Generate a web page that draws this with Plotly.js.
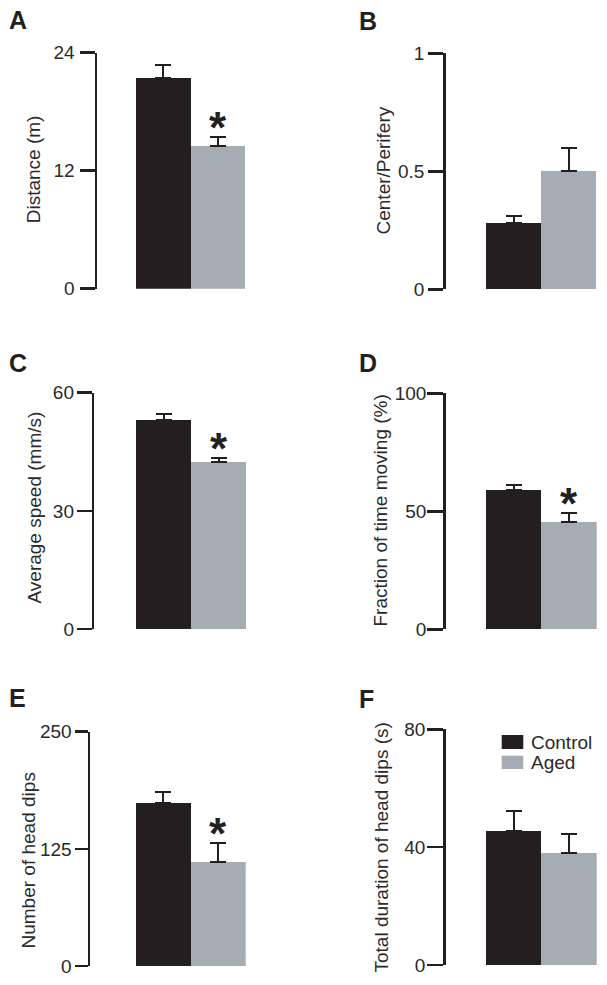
<!DOCTYPE html>
<html>
<head>
<meta charset="utf-8">
<script src="https://cdn.plot.ly/plotly-3.0.1.min.js"></script>
<style>html,body{margin:0;padding:0;background:#fff;}#chart{width:607px;height:985px;}</style>
</head>
<body>
<div id="chart"></div>
<script>
// ---------- data ----------
const panelLetters = ['A', 'B', 'C', 'D', 'E', 'F'];
const yTitles = ['Distance (m)', 'Center/Perifery', 'Average speed (mm/s)',
                 'Fraction of time moving (%)', 'Number of head dips', 'Total duration of head dips (s)'];
const groups = ['Control', 'Aged'];
const controlMean = [21.4, 0.28, 53.1, 59.0, 174, 45.6];
const controlSem  = [1.3, 0.03, 1.5, 2.0, 12, 6.7];
const agedMean    = [14.5, 0.50, 42.5, 45.5, 111, 38.1];
const agedSem     = [0.9, 0.10, 1.0, 3.9, 20, 6.5];
const yMax        = [24, 1, 60, 100, 250, 80];
const tickLabels  = [['0','12','24'], ['0','0.5','1'], ['0','30','60'], ['0','50','100'], ['0','125','250'], ['0','40','80']];
const significant = [true, false, true, true, true, false];

// ---------- layout geometry (pixels) ----------
const W = 607, H = 985;
// [axisX, barLeft, barRight, top, bottom]
const boxes = [
  [97, 136, 245, 52.7, 288.7],
  [445.7, 486, 596.3, 53.3, 289.3],
  [94.3, 136.3, 246, 392.7, 629],
  [445.7, 486, 596.7, 393.3, 629.3],
  [90, 136, 245.7, 731.7, 966],
  [445.7, 486, 596.7, 729.3, 965]
];
const tickLens = [15, 15, 15, 16, 13, 16];
const labelStandoffs = [1, 0, -1, -3, -1, -2];
const titlePos = [[33.3, 169], [382.5, 171], [34, 507.5], [380, 510.5], [27.5, 861], [380.5, 848]];
const letterPos = [[7, 20.5], [357, 21], [7, 363], [357, 363], [7, 697.5], [357, 699]];

const BLACK = '#231f20', GRAY = '#a6acb4', TXT = '#2a2a2a';
const FONT = 'Liberation Sans, Arial, Helvetica, sans-serif';

const traces = [];
const layout = {
  width: W, height: H,
  margin: {l: 0, r: 0, t: 0, b: 0, pad: 0},
  paper_bgcolor: '#fff', plot_bgcolor: 'rgba(0,0,0,0)',
  showlegend: false,
  bargap: 0,
  barmode: 'overlay',
  font: {family: FONT, color: TXT, size: 19},
  annotations: [],
  shapes: []
};

for (let i = 0; i < 6; i++) {
  const n = i + 1;
  const sfx = (n === 1 ? '' : String(n));
  const xa = 'x' + sfx, ya = 'y' + sfx;
  const [ax, bl, br, top, bot] = boxes[i];
  const scale = (br - bl) / 2;
  const left = -0.5 - (bl - ax) / scale;
  const means = [controlMean[i], agedMean[i]];
  const sems = [controlSem[i], agedSem[i]];
  const colors = [BLACK, GRAY];
  for (let g = 0; g < 2; g++) {
    traces.push({
      type: 'bar', name: groups[g], x: [g], y: [means[g]], width: [1],
      xaxis: xa, yaxis: ya,
      marker: {color: colors[g], line: {width: 0}},
      error_y: {type: 'data', symmetric: false, array: [sems[g]], arrayminus: [0],
                color: BLACK, thickness: 2, width: 8},
      hoverinfo: 'skip', showlegend: false
    });
  }
  layout['xaxis' + sfx] = {
    domain: [ax / W, br / W], range: [left, 1.5], anchor: ya,
    visible: false, fixedrange: true
  };
  layout['yaxis' + sfx] = {
    domain: [1 - bot / H, 1 - top / H], range: [0, yMax[i]], anchor: xa,
    tickvals: [0, yMax[i] / 2, yMax[i]], ticktext: tickLabels[i],
    showline: true, linewidth: 2.5, linecolor: BLACK,
    ticks: 'outside', ticklen: tickLens[i], tickwidth: 2.5, tickcolor: BLACK,
    showgrid: false, zeroline: false, fixedrange: true,
    tickfont: {size: 19, color: TXT, family: FONT},
    ticklabelstandoff: labelStandoffs[i],
    automargin: false
  };
  // y-axis title
  layout.annotations.push({
    xref: 'paper', yref: 'paper', x: titlePos[i][0] / W, y: 1 - titlePos[i][1] / H,
    xanchor: 'center', yanchor: 'middle', textangle: -90, showarrow: false,
    text: yTitles[i], font: {size: 19, color: TXT, family: FONT}
  });
  if (significant[i]) {
    layout.annotations.push({
      xref: xa, yref: ya, x: 1, y: agedMean[i] + agedSem[i],
      text: '<b>*</b>', showarrow: false, xanchor: 'center', yanchor: 'bottom',
      yshift: -17, font: {size: 44, color: BLACK, family: FONT}
    });
  }
  layout.annotations.push({
    xref: 'paper', yref: 'paper', x: letterPos[i][0] / W, y: 1 - letterPos[i][1] / H,
    xanchor: 'left', yanchor: 'middle', showarrow: false,
    text: '<b>' + panelLetters[i] + '</b>', font: {size: 25, color: BLACK, family: FONT}
  });
}

// legend (drawn in panel F area)
const legendItems = [[groups[0], BLACK, 735, 749], [groups[1], GRAY, 755.7, 769]];
legendItems.forEach(([label, col, y0, y1]) => {
  layout.shapes.push({type: 'rect', xref: 'paper', yref: 'paper',
    x0: 501.7 / W, x1: 523.3 / W, y0: 1 - y1 / H, y1: 1 - y0 / H,
    fillcolor: col, line: {width: 0}});
  layout.annotations.push({xref: 'paper', yref: 'paper', x: 528.5 / W, y: 1 - ((y0 + y1) / 2) / H,
    xanchor: 'left', yanchor: 'middle', showarrow: false, text: label,
    font: {size: 19, color: TXT, family: FONT}});
});

Plotly.newPlot('chart', traces, layout, {displayModeBar: false, staticPlot: true});
</script>
</body>
</html>
